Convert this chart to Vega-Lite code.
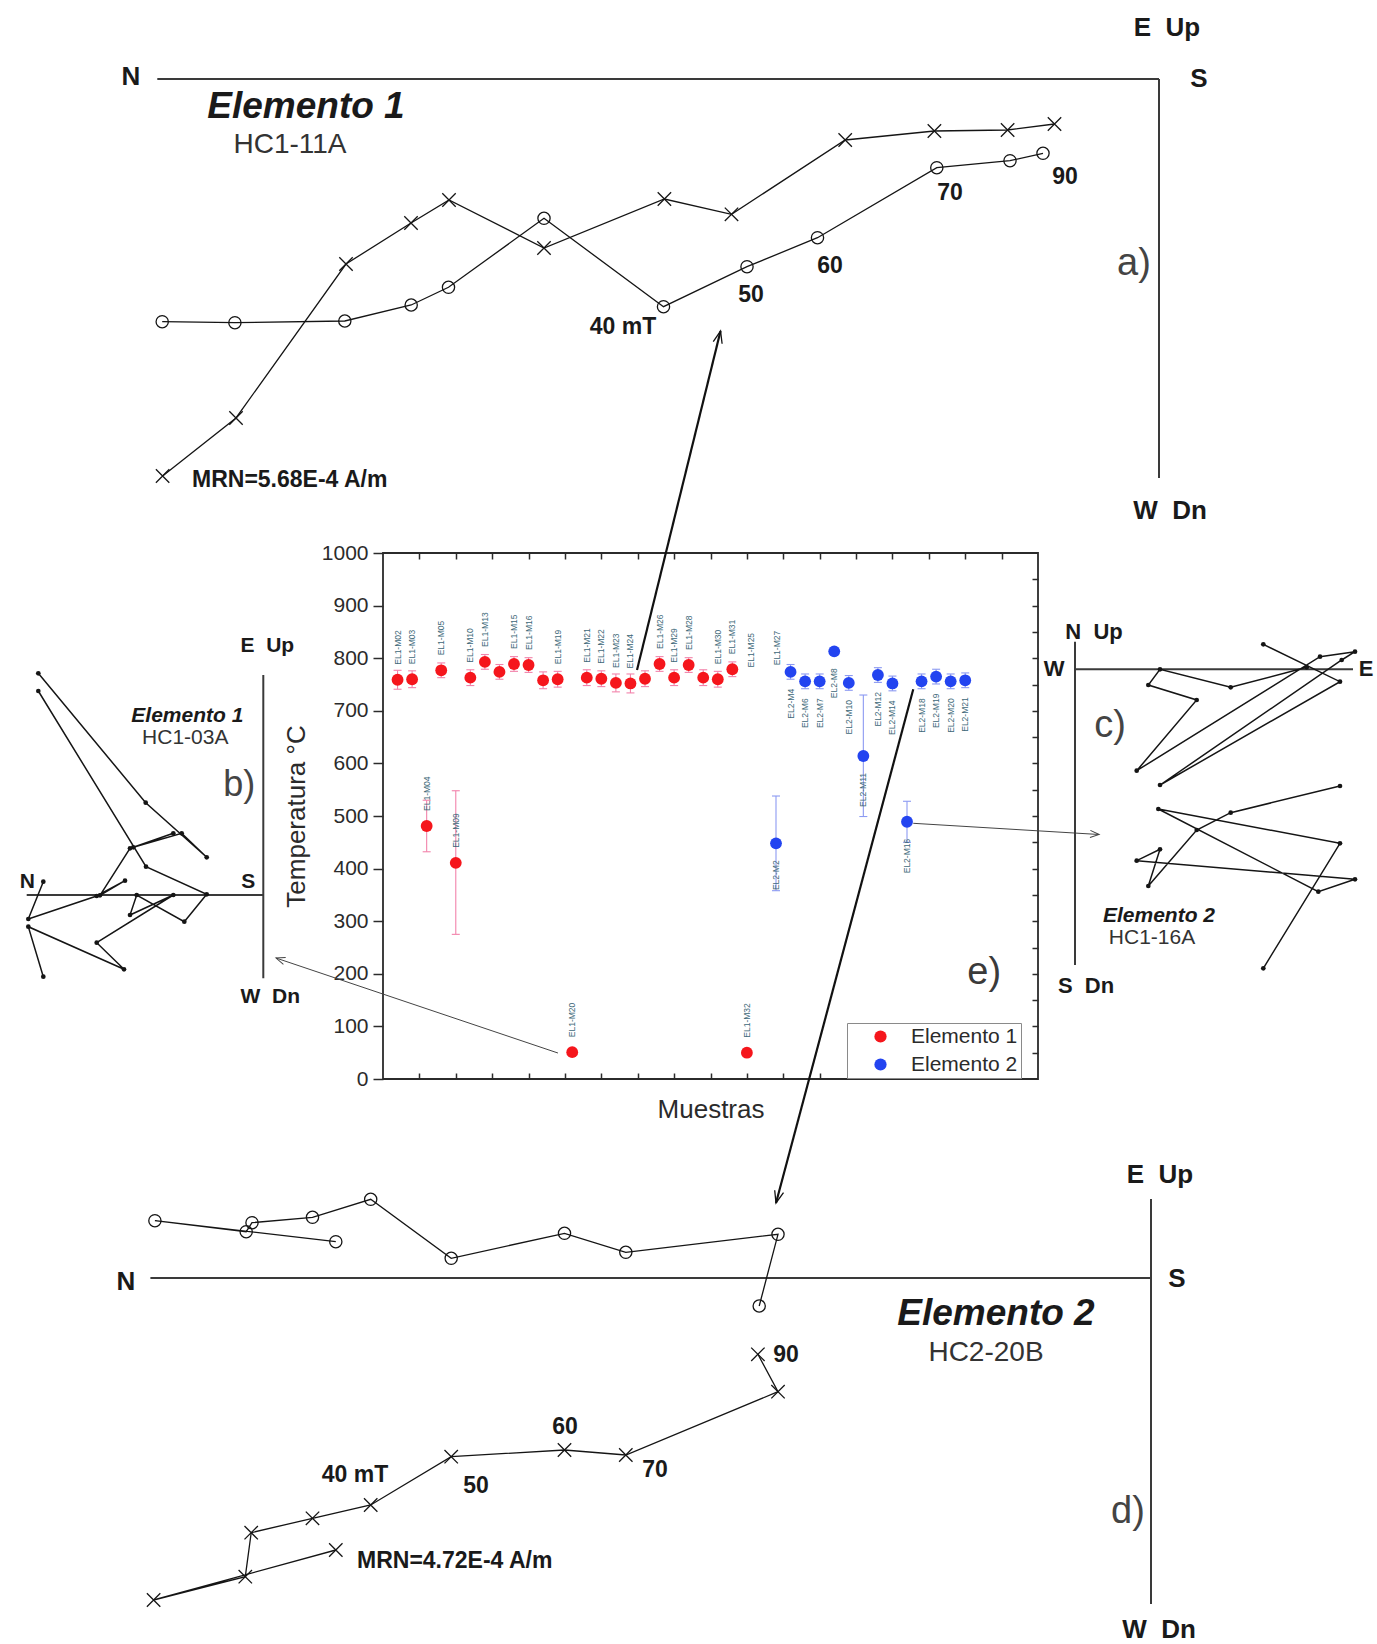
{
  "$schema": "https://vega.github.io/schema/vega-lite/v6.json",
  "width": 655,
  "height": 526,
  "autosize": {"type": "none"},
  "padding": {"left": 383, "top": 553, "right": 339, "bottom": 565},
  "background": "white",
  "config": {"font": "Liberation Sans", "view": {"stroke": "#2b2b2b", "strokeWidth": 1.8}},
  "datasets": {
    "samples": [
      {"idx": 1, "temp": 759, "lo": 741, "hi": 777, "element": "Elemento 1", "label": "EL1-M02"},
      {"idx": 2, "temp": 760, "lo": 744, "hi": 776, "element": "Elemento 1", "label": "EL1-M03"},
      {"idx": 3, "temp": 481, "lo": 432, "hi": 530, "element": "Elemento 1", "label": "EL1-M04"},
      {"idx": 4, "temp": 777, "lo": 763, "hi": 791, "element": "Elemento 1", "label": "EL1-M05"},
      {"idx": 5, "temp": 411, "lo": 275, "hi": 548, "element": "Elemento 1", "label": "EL1-M09"},
      {"idx": 6, "temp": 763, "lo": 748, "hi": 778, "element": "Elemento 1", "label": "EL1-M10"},
      {"idx": 7, "temp": 793, "lo": 779, "hi": 807, "element": "Elemento 1", "label": "EL1-M13"},
      {"idx": 8, "temp": 774, "lo": 760, "hi": 788, "element": "Elemento 1", "label": null},
      {"idx": 9, "temp": 789, "lo": 775, "hi": 803, "element": "Elemento 1", "label": "EL1-M15"},
      {"idx": 10, "temp": 787, "lo": 773, "hi": 801, "element": "Elemento 1", "label": "EL1-M16"},
      {"idx": 11, "temp": 758, "lo": 742, "hi": 774, "element": "Elemento 1", "label": null},
      {"idx": 12, "temp": 760, "lo": 745, "hi": 775, "element": "Elemento 1", "label": "EL1-M19"},
      {"idx": 13, "temp": 51, "lo": null, "hi": null, "element": "Elemento 1", "label": "EL1-M20"},
      {"idx": 14, "temp": 763, "lo": 748, "hi": 778, "element": "Elemento 1", "label": "EL1-M21"},
      {"idx": 15, "temp": 761, "lo": 746, "hi": 776, "element": "Elemento 1", "label": "EL1-M22"},
      {"idx": 16, "temp": 753, "lo": 736, "hi": 770, "element": "Elemento 1", "label": "EL1-M23"},
      {"idx": 17, "temp": 752, "lo": 734, "hi": 770, "element": "Elemento 1", "label": "EL1-M24"},
      {"idx": 18, "temp": 761, "lo": 746, "hi": 776, "element": "Elemento 1", "label": null},
      {"idx": 19, "temp": 789, "lo": 775, "hi": 803, "element": "Elemento 1", "label": "EL1-M26"},
      {"idx": 20, "temp": 763, "lo": 748, "hi": 778, "element": "Elemento 1", "label": "EL1-M29"},
      {"idx": 21, "temp": 787, "lo": 773, "hi": 801, "element": "Elemento 1", "label": "EL1-M28"},
      {"idx": 22, "temp": 763, "lo": 748, "hi": 778, "element": "Elemento 1", "label": null},
      {"idx": 23, "temp": 760, "lo": 745, "hi": 775, "element": "Elemento 1", "label": "EL1-M30"},
      {"idx": 24, "temp": 779, "lo": 765, "hi": 793, "element": "Elemento 1", "label": "EL1-M31"},
      {"idx": 25, "temp": 50, "lo": null, "hi": null, "element": "Elemento 1", "label": "EL1-M32"},
      {"idx": 27, "temp": 448, "lo": 358, "hi": 538, "element": "Elemento 2", "label": "EL2-M2"},
      {"idx": 28, "temp": 774, "lo": 760, "hi": 788, "element": "Elemento 2", "label": "EL2-M4"},
      {"idx": 29, "temp": 756, "lo": 742, "hi": 770, "element": "Elemento 2", "label": "EL2-M6"},
      {"idx": 30, "temp": 756, "lo": 742, "hi": 770, "element": "Elemento 2", "label": "EL2-M7"},
      {"idx": 31, "temp": 813, "lo": null, "hi": null, "element": "Elemento 2", "label": "EL2-M8"},
      {"idx": 32, "temp": 753, "lo": 739, "hi": 767, "element": "Elemento 2", "label": "EL2-M10"},
      {"idx": 33, "temp": 614, "lo": 499, "hi": 730, "element": "Elemento 2", "label": "EL2-M11"},
      {"idx": 34, "temp": 768, "lo": 754, "hi": 782, "element": "Elemento 2", "label": "EL2-M12"},
      {"idx": 35, "temp": 752, "lo": 738, "hi": 766, "element": "Elemento 2", "label": "EL2-M14"},
      {"idx": 36, "temp": 489, "lo": 450, "hi": 528, "element": "Elemento 2", "label": "EL2-M16"},
      {"idx": 37, "temp": 756, "lo": 742, "hi": 770, "element": "Elemento 2", "label": "EL2-M18"},
      {"idx": 38, "temp": 765, "lo": 751, "hi": 779, "element": "Elemento 2", "label": "EL2-M19"},
      {"idx": 39, "temp": 756, "lo": 742, "hi": 770, "element": "Elemento 2", "label": "EL2-M20"},
      {"idx": 40, "temp": 758, "lo": 744, "hi": 772, "element": "Elemento 2", "label": "EL2-M21"}
    ],
    "orphans": [
      {"idx": 25.25, "temp": 754, "element": "Elemento 1", "label": "EL1-M25"},
      {"idx": 27.05, "temp": 758, "element": "Elemento 1", "label": "EL1-M27"}
    ],
    "arrows": [
      {"id": "a", "kind": "main", "idx": 17.45, "temp": 777.6, "idx2": 23.19, "temp2": 1422},
      {"id": "d", "kind": "main", "idx": 36.43, "temp": 740.9, "idx2": 27.0, "temp2": -235.7},
      {"id": "b", "kind": "aux", "idx": 12.02, "temp": 49.4, "idx2": -7.35, "temp2": 230},
      {"id": "c", "kind": "aux", "idx": 36.43, "temp": 486.1, "idx2": 49.2, "temp2": 464.8}
    ],
    "zij": [
      {"panel": "a", "proj": "H", "step": 0, "x": -996.4, "y": -397},
      {"panel": "a", "proj": "H", "step": 1, "x": -923, "y": -339},
      {"panel": "a", "proj": "H", "step": 2, "x": -813, "y": -185},
      {"panel": "a", "proj": "H", "step": 3, "x": -748, "y": -144},
      {"panel": "a", "proj": "H", "step": 4, "x": -710, "y": -121},
      {"panel": "a", "proj": "H", "step": 5, "x": -615, "y": -169},
      {"panel": "a", "proj": "H", "step": 6, "x": -494.6, "y": -120},
      {"panel": "a", "proj": "H", "step": 7, "x": -427.5, "y": -135.3},
      {"panel": "a", "proj": "H", "step": 8, "x": -313.8, "y": -61},
      {"panel": "a", "proj": "H", "step": 9, "x": -224.6, "y": -52},
      {"panel": "a", "proj": "H", "step": 10, "x": -151.4, "y": -51},
      {"panel": "a", "proj": "H", "step": 11, "x": -104.5, "y": -45},
      {"panel": "a", "proj": "V", "step": 0, "x": -996.8, "y": -242.7},
      {"panel": "a", "proj": "V", "step": 1, "x": -924.1, "y": -243.7},
      {"panel": "a", "proj": "V", "step": 2, "x": -814.2, "y": -242},
      {"panel": "a", "proj": "V", "step": 3, "x": -747.8, "y": -226},
      {"panel": "a", "proj": "V", "step": 4, "x": -710.5, "y": -208.3},
      {"panel": "a", "proj": "V", "step": 5, "x": -615, "y": -139.3},
      {"panel": "a", "proj": "V", "step": 6, "x": -495.5, "y": -227.7},
      {"panel": "a", "proj": "V", "step": 7, "x": -412, "y": -187.7},
      {"panel": "a", "proj": "V", "step": 8, "x": -341.5, "y": -158.7},
      {"panel": "a", "proj": "V", "step": 9, "x": -222.2, "y": -88.7},
      {"panel": "a", "proj": "V", "step": 10, "x": -149, "y": -81.7},
      {"panel": "a", "proj": "V", "step": 11, "x": -116, "y": -74.3},
      {"panel": "b", "proj": "H", "step": 0, "x": -220, "y": -81.7},
      {"panel": "b", "proj": "H", "step": 1, "x": -235, "y": -31.7},
      {"panel": "b", "proj": "H", "step": 2, "x": -139.3, "y": -74.3},
      {"panel": "b", "proj": "H", "step": 3, "x": -166.6, "y": -47.7},
      {"panel": "b", "proj": "H", "step": 4, "x": -90, "y": 0},
      {"panel": "b", "proj": "H", "step": 5, "x": -133.3, "y": -20},
      {"panel": "b", "proj": "H", "step": 6, "x": -126.6, "y": 0},
      {"panel": "b", "proj": "H", "step": 7, "x": -79, "y": -26.7},
      {"panel": "b", "proj": "H", "step": 8, "x": -56.6, "y": 0.7},
      {"panel": "b", "proj": "H", "step": 9, "x": -117.3, "y": 28.3},
      {"panel": "b", "proj": "H", "step": 10, "x": -225, "y": 204},
      {"panel": "b", "proj": "V", "step": 0, "x": -220, "y": 13.3},
      {"panel": "b", "proj": "V", "step": 1, "x": -235, "y": -24},
      {"panel": "b", "proj": "V", "step": 2, "x": -166.6, "y": -1},
      {"panel": "b", "proj": "V", "step": 3, "x": -138.3, "y": 14.3},
      {"panel": "b", "proj": "V", "step": 4, "x": -163.3, "y": -0.3},
      {"panel": "b", "proj": "V", "step": 5, "x": -133.3, "y": 46.7},
      {"panel": "b", "proj": "V", "step": 6, "x": -90, "y": 61.7},
      {"panel": "b", "proj": "V", "step": 7, "x": -130, "y": 47.7},
      {"panel": "b", "proj": "V", "step": 8, "x": -81.6, "y": 61.7},
      {"panel": "b", "proj": "V", "step": 9, "x": -56.6, "y": 37.7},
      {"panel": "b", "proj": "V", "step": 10, "x": -117.6, "y": 92.3},
      {"panel": "b", "proj": "V", "step": 11, "x": -225, "y": 221.7},
      {"panel": "c", "proj": "H", "step": 0, "x": 231.7, "y": 2},
      {"panel": "c", "proj": "H", "step": 1, "x": 155.7, "y": -18},
      {"panel": "c", "proj": "H", "step": 2, "x": 85, "y": 0},
      {"panel": "c", "proj": "H", "step": 3, "x": 73.3, "y": -15.7},
      {"panel": "c", "proj": "H", "step": 4, "x": 121.7, "y": -30.7},
      {"panel": "c", "proj": "H", "step": 5, "x": 61.7, "y": -101.4},
      {"panel": "c", "proj": "H", "step": 6, "x": 245, "y": 12.6},
      {"panel": "c", "proj": "H", "step": 7, "x": 280, "y": 17.6},
      {"panel": "c", "proj": "H", "step": 8, "x": 266.7, "y": 9.3},
      {"panel": "c", "proj": "H", "step": 9, "x": 85, "y": -115.7},
      {"panel": "c", "proj": "H", "step": 10, "x": 265, "y": -12.4},
      {"panel": "c", "proj": "H", "step": 11, "x": 188.3, "y": 25},
      {"panel": "c", "proj": "V", "step": 0, "x": 265, "y": -116.7},
      {"panel": "c", "proj": "V", "step": 1, "x": 155.7, "y": -143.4},
      {"panel": "c", "proj": "V", "step": 2, "x": 121.7, "y": -160.7},
      {"panel": "c", "proj": "V", "step": 3, "x": 73.3, "y": -216.7},
      {"panel": "c", "proj": "V", "step": 4, "x": 85, "y": -180},
      {"panel": "c", "proj": "V", "step": 5, "x": 61.7, "y": -191.4},
      {"panel": "c", "proj": "V", "step": 6, "x": 280, "y": -210},
      {"panel": "c", "proj": "V", "step": 7, "x": 243.3, "y": -222.4},
      {"panel": "c", "proj": "V", "step": 8, "x": 83.3, "y": -139.7},
      {"panel": "c", "proj": "V", "step": 9, "x": 265, "y": -174},
      {"panel": "c", "proj": "V", "step": 10, "x": 188.3, "y": -299},
      {"panel": "d", "proj": "V", "step": 0, "x": -815.2, "y": 36.3},
      {"panel": "d", "proj": "V", "step": 1, "x": -996.1, "y": 57.3},
      {"panel": "d", "proj": "V", "step": 2, "x": -904.8, "y": 46.3},
      {"panel": "d", "proj": "V", "step": 3, "x": -899, "y": 55.3},
      {"panel": "d", "proj": "V", "step": 4, "x": -838.5, "y": 60.7},
      {"panel": "d", "proj": "V", "step": 5, "x": -780.3, "y": 78.7},
      {"panel": "d", "proj": "V", "step": 6, "x": -699.8, "y": 19.7},
      {"panel": "d", "proj": "V", "step": 7, "x": -586.5, "y": 44.7},
      {"panel": "d", "proj": "V", "step": 8, "x": -525.2, "y": 25.7},
      {"panel": "d", "proj": "V", "step": 9, "x": -373, "y": 43.7},
      {"panel": "d", "proj": "V", "step": 10, "x": -391.8, "y": -28},
      {"panel": "d", "proj": "H", "step": 0, "x": -815.2, "y": -272},
      {"panel": "d", "proj": "H", "step": 1, "x": -997.4, "y": -322},
      {"panel": "d", "proj": "H", "step": 2, "x": -905.7, "y": -298.7},
      {"panel": "d", "proj": "H", "step": 3, "x": -899.8, "y": -254.7},
      {"panel": "d", "proj": "H", "step": 4, "x": -838.5, "y": -240.3},
      {"panel": "d", "proj": "H", "step": 5, "x": -780.3, "y": -227},
      {"panel": "d", "proj": "H", "step": 6, "x": -699.8, "y": -178.7},
      {"panel": "d", "proj": "H", "step": 7, "x": -586.5, "y": -172},
      {"panel": "d", "proj": "H", "step": 8, "x": -525.2, "y": -177},
      {"panel": "d", "proj": "H", "step": 9, "x": -373, "y": -113.7},
      {"panel": "d", "proj": "H", "step": 10, "x": -393.1, "y": -76.3}
    ],
    "zaxes": [
      {"panel": "a", "x": -1001.7, "y": 0, "x2": 0, "y2": 0},
      {"panel": "a", "x": 0, "y": 0, "x2": 0, "y2": -399},
      {"panel": "b", "x": 0, "y": 220, "x2": 0, "y2": -83.3},
      {"panel": "b", "x": -236.6, "y": 0, "x2": 0, "y2": 0},
      {"panel": "c", "x": 0, "y": 27.6, "x2": 0, "y2": -295.7},
      {"panel": "c", "x": 0, "y": 0, "x2": 278, "y2": 0},
      {"panel": "d", "x": -1000.6, "y": 0, "x2": 0, "y2": 0},
      {"panel": "d", "x": 0, "y": 79, "x2": 0, "y2": -326}
    ],
    "notes": [
      {"panel": "a", "role": "dir", "x": -1028, "y": 2, "text": "N"},
      {"panel": "a", "role": "dir", "x": 40, "y": 0, "text": "S"},
      {"panel": "a", "role": "dir", "x": 8, "y": 51, "text": "E\u00a0\u00a0Up"},
      {"panel": "a", "role": "dir", "x": 11, "y": -432, "text": "W\u00a0\u00a0Dn"},
      {"panel": "a", "role": "panel", "x": -25, "y": -185, "text": "a)"},
      {"panel": "a", "role": "element", "x": -853, "y": -28, "text": "Elemento 1"},
      {"panel": "a", "role": "sample", "x": -869, "y": -66, "text": "HC1-11A"},
      {"panel": "a", "role": "nrm", "x": -967, "y": -401, "text": "MRN=5.68E-4 A/m"},
      {"panel": "a", "role": "step", "x": -536, "y": -248, "text": "40 mT"},
      {"panel": "a", "role": "step", "x": -408, "y": -216, "text": "50"},
      {"panel": "a", "role": "step", "x": -329, "y": -187, "text": "60"},
      {"panel": "a", "role": "step", "x": -209, "y": -114, "text": "70"},
      {"panel": "a", "role": "step", "x": -94, "y": -98, "text": "90"},
      {"panel": "b", "role": "dir", "x": 4, "y": 249, "text": "E\u00a0\u00a0Up"},
      {"panel": "b", "role": "dir", "x": -236, "y": 13, "text": "N"},
      {"panel": "b", "role": "dir", "x": -15, "y": 13, "text": "S"},
      {"panel": "b", "role": "dir", "x": 7, "y": -102, "text": "W\u00a0\u00a0Dn"},
      {"panel": "b", "role": "panel", "x": -24, "y": 110, "text": "b)"},
      {"panel": "b", "role": "element", "x": -76, "y": 179, "text": "Elemento 1"},
      {"panel": "b", "role": "sample", "x": -78, "y": 157, "text": "HC1-03A"},
      {"panel": "c", "role": "dir", "x": 19, "y": 37, "text": "N\u00a0\u00a0Up"},
      {"panel": "c", "role": "dir", "x": -21, "y": 0, "text": "W"},
      {"panel": "c", "role": "dir", "x": 291, "y": 0, "text": "E"},
      {"panel": "c", "role": "dir", "x": 11, "y": -317, "text": "S\u00a0\u00a0Dn"},
      {"panel": "c", "role": "panel", "x": 35, "y": -57, "text": "c)"},
      {"panel": "c", "role": "element", "x": 84, "y": -247, "text": "Elemento 2"},
      {"panel": "c", "role": "sample", "x": 77, "y": -269, "text": "HC1-16A"},
      {"panel": "d", "role": "dir", "x": -1025, "y": -4, "text": "N"},
      {"panel": "d", "role": "dir", "x": 26, "y": -1, "text": "S"},
      {"panel": "d", "role": "dir", "x": 9, "y": 103, "text": "E\u00a0\u00a0Up"},
      {"panel": "d", "role": "dir", "x": 8, "y": -352, "text": "W\u00a0\u00a0Dn"},
      {"panel": "d", "role": "panel", "x": -23, "y": -234, "text": "d)"},
      {"panel": "d", "role": "element", "x": -155, "y": -36, "text": "Elemento 2"},
      {"panel": "d", "role": "sample", "x": -165, "y": -75, "text": "HC2-20B"},
      {"panel": "d", "role": "nrm", "x": -794, "y": -283, "text": "MRN=4.72E-4 A/m"},
      {"panel": "d", "role": "step", "x": -796, "y": -197, "text": "40 mT"},
      {"panel": "d", "role": "step", "x": -675, "y": -208, "text": "50"},
      {"panel": "d", "role": "step", "x": -586, "y": -149, "text": "60"},
      {"panel": "d", "role": "step", "x": -496, "y": -192, "text": "70"},
      {"panel": "d", "role": "step", "x": -365, "y": -77, "text": "90"}
    ]
  },
  "resolve": {"scale": {"x": "independent", "y": "independent"}},
  "layer": [
    {
      "resolve": {"axis": {"x": "independent", "y": "independent"}},
      "encoding": {
        "x": {"field": "idx", "type": "quantitative", "scale": {"domain": [0, 45], "nice": false, "zero": false}, "axis": null},
        "y": {"field": "temp", "type": "quantitative", "scale": {"domain": [0, 1000], "nice": false, "zero": false}, "axis": null}
      },
      "layer": [
        {
          "data": {"name": "samples"},
          "transform": [{"filter": "datum.lo != null && datum.element === 'Elemento 1'"}],
          "mark": {"type": "rule", "strokeWidth": 1.1, "stroke": "#f283ab"},
          "encoding": {
            "x": {"field": "idx", "type": "quantitative", "scale": {"domain": [0, 45], "nice": false, "zero": false},
              "axis": {"orient": "top", "values": [2.5, 5, 7.5, 10, 12.5, 15, 17.5, 20, 22.5, 25, 27.5, 30, 32.5, 35, 37.5, 40, 42.5], "tickSize": -6, "tickWidth": 1.5, "tickColor": "#2b2b2b", "labels": false, "domain": false, "grid": false, "title": null}},
            "y": {"field": "lo", "type": "quantitative", "scale": {"domain": [0, 1000], "nice": false, "zero": false},
              "axis": {"orient": "right", "values": [50, 100, 150, 200, 250, 300, 350, 400, 450, 500, 550, 600, 650, 700, 750, 800, 850, 900, 950], "tickSize": -6, "tickWidth": 1.5, "tickColor": "#2b2b2b", "labels": false, "domain": false, "grid": false, "title": null}},
            "y2": {"field": "hi"}
          }
        },
        {
          "data": {"name": "samples"},
          "transform": [{"filter": "datum.lo != null && datum.element === 'Elemento 2'"}],
          "mark": {"type": "rule", "strokeWidth": 1.1, "stroke": "#8c9af2"},
          "encoding": {
            "y": {"field": "lo", "type": "quantitative", "scale": {"domain": [0, 1000], "nice": false, "zero": false}, "axis": null},
            "y2": {"field": "hi"}
          }
        },
        {
          "data": {"name": "samples"},
          "transform": [{"filter": "datum.lo != null && datum.element === 'Elemento 1'"}],
          "mark": {"type": "point", "shape": "stroke", "size": 64, "filled": false, "strokeWidth": 1.1, "opacity": 1, "stroke": "#f283ab"},
          "encoding": {"y": {"field": "lo", "type": "quantitative", "scale": {"domain": [0, 1000], "nice": false, "zero": false}, "axis": null}}
        },
        {
          "data": {"name": "samples"},
          "transform": [{"filter": "datum.hi != null && datum.element === 'Elemento 1'"}],
          "mark": {"type": "point", "shape": "stroke", "size": 64, "filled": false, "strokeWidth": 1.1, "opacity": 1, "stroke": "#f283ab"},
          "encoding": {"y": {"field": "hi", "type": "quantitative", "scale": {"domain": [0, 1000], "nice": false, "zero": false}, "axis": null}}
        },
        {
          "data": {"name": "samples"},
          "transform": [{"filter": "datum.lo != null && datum.element === 'Elemento 2'"}],
          "mark": {"type": "point", "shape": "stroke", "size": 64, "filled": false, "strokeWidth": 1.1, "opacity": 1, "stroke": "#8c9af2"},
          "encoding": {"y": {"field": "lo", "type": "quantitative", "scale": {"domain": [0, 1000], "nice": false, "zero": false}, "axis": null}}
        },
        {
          "data": {"name": "samples"},
          "transform": [{"filter": "datum.hi != null && datum.element === 'Elemento 2'"}],
          "mark": {"type": "point", "shape": "stroke", "size": 64, "filled": false, "strokeWidth": 1.1, "opacity": 1, "stroke": "#8c9af2"},
          "encoding": {"y": {"field": "hi", "type": "quantitative", "scale": {"domain": [0, 1000], "nice": false, "zero": false}, "axis": null}}
        },
        {
          "data": {"name": "samples"},
          "mark": {"type": "circle", "size": 140, "opacity": 1},
          "encoding": {
            "x": {"field": "idx", "type": "quantitative", "scale": {"domain": [0, 45], "nice": false, "zero": false},
              "axis": {"orient": "bottom", "values": [2.5, 5, 7.5, 10, 12.5, 15, 17.5, 20, 22.5, 25, 27.5, 30, 32.5, 35, 37.5, 40, 42.5], "tickSize": -6, "tickWidth": 1.5, "tickColor": "#2b2b2b", "labels": false, "domain": false, "grid": false, "title": "Muestras", "titleFontSize": 26, "titleFontWeight": "normal", "titleColor": "#2b2b2b", "titlePadding": 17, "minExtent": 0, "maxExtent": 0}},
            "y": {"field": "temp", "type": "quantitative", "scale": {"domain": [0, 1000], "nice": false, "zero": false},
              "axis": {"orient": "left", "values": [0, 100, 200, 300, 400, 500, 600, 700, 800, 900, 1000], "format": "d", "tickSize": 10, "tickWidth": 1.5, "tickColor": "#2b2b2b", "domain": false, "grid": false, "labelFontSize": 21, "labelColor": "#2b2b2b", "labelPadding": 5, "title": "Temperatura °C", "titleFontSize": 26, "titleFontWeight": "normal", "titleColor": "#2b2b2b", "titlePadding": 12}},
            "color": {"field": "element", "type": "nominal", "scale": {"domain": ["Elemento 1", "Elemento 2"], "range": ["#f5161c", "#2344f0"]},
              "legend": {"orient": "none", "legendX": 464, "legendY": 470, "title": null, "strokeColor": "#8a8a8a", "fillColor": "white", "padding": 3, "labelFontSize": 21, "labelColor": "#2b2b2b", "symbolSize": 150, "symbolType": "circle", "symbolOffset": 20, "labelOffset": 20, "rowPadding": 6, "symbolStrokeWidth": 0}}
          }
        },
        {
          "data": {"name": "samples"},
          "transform": [{"filter": "datum.label != null && datum.element === 'Elemento 1'"}],
          "mark": {"type": "text", "angle": 270, "align": "left", "baseline": "middle", "dx": 15, "fontSize": 8.5, "color": "#3d6878"},
          "encoding": {"text": {"field": "label"}}
        },
        {
          "data": {"name": "orphans"},
          "mark": {"type": "text", "angle": 270, "align": "left", "baseline": "middle", "dx": 15, "fontSize": 8.5, "color": "#3d6878"},
          "encoding": {"text": {"field": "label"}}
        },
        {
          "data": {"name": "samples"},
          "transform": [{"filter": "datum.label != null && datum.element === 'Elemento 2'"}],
          "mark": {"type": "text", "angle": 270, "align": "right", "baseline": "middle", "dx": -17, "fontSize": 8.5, "color": "#3d6878"},
          "encoding": {"text": {"field": "label"}}
        },
        {
          "data": {"values": [{"idx": 41.3, "temp": 202, "text": "e)"}]},
          "mark": {"type": "text", "fontSize": 38, "color": "#3a3a3a", "baseline": "middle", "align": "center"},
          "encoding": {"text": {"field": "text"}}
        },
        {
          "data": {"name": "arrows"},
          "transform": [{"filter": "datum.kind === 'main'"}],
          "mark": {"type": "rule", "stroke": "#111111", "strokeWidth": 2.2},
          "encoding": {"x2": {"field": "idx2"}, "y2": {"field": "temp2"}}
        },
        {
          "data": {"name": "arrows"},
          "transform": [{"filter": "datum.kind === 'aux'"}],
          "mark": {"type": "rule", "stroke": "#444444", "strokeWidth": 1},
          "encoding": {"x2": {"field": "idx2"}, "y2": {"field": "temp2"}}
        },
        {
          "data": {"name": "arrows"},
          "transform": [{"filter": "datum.id === 'a'"}],
          "mark": {"type": "point", "shape": "M -0.38 1 L 0 0 L 0.38 1", "size": 576, "filled": false, "stroke": "#111111", "strokeWidth": 1.3, "opacity": 1, "angle": 13.8},
          "encoding": {
            "x": {"field": "idx2", "type": "quantitative", "scale": {"domain": [0, 45], "nice": false, "zero": false}, "axis": null},
            "y": {"field": "temp2", "type": "quantitative", "scale": {"domain": [0, 1000], "nice": false, "zero": false}, "axis": null}
          }
        },
        {
          "data": {"name": "arrows"},
          "transform": [{"filter": "datum.id === 'd'"}],
          "mark": {"type": "point", "shape": "M -0.38 1 L 0 0 L 0.38 1", "size": 576, "filled": false, "stroke": "#111111", "strokeWidth": 1.3, "opacity": 1, "angle": 195},
          "encoding": {
            "x": {"field": "idx2", "type": "quantitative", "scale": {"domain": [0, 45], "nice": false, "zero": false}, "axis": null},
            "y": {"field": "temp2", "type": "quantitative", "scale": {"domain": [0, 1000], "nice": false, "zero": false}, "axis": null}
          }
        },
        {
          "data": {"name": "arrows"},
          "transform": [{"filter": "datum.id === 'b'"}],
          "mark": {"type": "point", "shape": "M -0.4 1 L 0 0 L 0.4 1", "size": 324, "filled": false, "stroke": "#444444", "strokeWidth": 1, "opacity": 1, "angle": 288.6},
          "encoding": {
            "x": {"field": "idx2", "type": "quantitative", "scale": {"domain": [0, 45], "nice": false, "zero": false}, "axis": null},
            "y": {"field": "temp2", "type": "quantitative", "scale": {"domain": [0, 1000], "nice": false, "zero": false}, "axis": null}
          }
        },
        {
          "data": {"name": "arrows"},
          "transform": [{"filter": "datum.id === 'c'"}],
          "mark": {"type": "point", "shape": "M -0.4 1 L 0 0 L 0.4 1", "size": 324, "filled": false, "stroke": "#444444", "strokeWidth": 1, "opacity": 1, "angle": 93.5},
          "encoding": {
            "x": {"field": "idx2", "type": "quantitative", "scale": {"domain": [0, 45], "nice": false, "zero": false}, "axis": null},
            "y": {"field": "temp2", "type": "quantitative", "scale": {"domain": [0, 1000], "nice": false, "zero": false}, "axis": null}
          }
        }
      ]
    },
    {
      "encoding": {
        "x": {"field": "x", "type": "quantitative", "scale": {"domain": [-776, -121], "nice": false, "zero": false}, "axis": null},
        "y": {"field": "y", "type": "quantitative", "scale": {"domain": [-1000, -474], "nice": false, "zero": false}, "axis": null}
      },
      "layer": [
        {"data": {"name": "zaxes"}, "transform": [{"filter": "datum.panel === 'a'"}], "mark": {"type": "rule", "stroke": "#3a3a3a", "strokeWidth": 2}, "encoding": {"x2": {"field": "x2"}, "y2": {"field": "y2"}}},
        {"data": {"name": "zij"}, "transform": [{"filter": "datum.panel === 'a'"}], "mark": {"type": "line", "stroke": "#151515", "strokeWidth": 1.3}, "encoding": {"detail": {"field": "proj", "type": "nominal"}, "order": {"field": "step", "type": "quantitative"}}},
        {"data": {"name": "zij"}, "transform": [{"filter": "datum.panel === 'a' && datum.proj === 'H'"}], "mark": {"type": "point", "shape": "M -1 -1 L 1 1 M -1 1 L 1 -1", "size": 180, "filled": false, "stroke": "#151515", "strokeWidth": 1.3, "opacity": 1}},
        {"data": {"name": "zij"}, "transform": [{"filter": "datum.panel === 'a' && datum.proj === 'V'"}], "mark": {"type": "point", "shape": "circle", "size": 150, "filled": false, "stroke": "#151515", "strokeWidth": 1.3, "opacity": 1}},
        {"data": {"name": "notes"}, "transform": [{"filter": "datum.panel === 'a' && datum.role === 'dir'"}], "mark": {"type": "text", "fontSize": 26, "fontWeight": "bold", "color": "#1a1a1a", "baseline": "middle"}, "encoding": {"text": {"field": "text"}}},
        {"data": {"name": "notes"}, "transform": [{"filter": "datum.panel === 'a' && datum.role === 'step'"}], "mark": {"type": "text", "fontSize": 23, "fontWeight": "bold", "color": "#1a1a1a", "baseline": "middle"}, "encoding": {"text": {"field": "text"}}},
        {"data": {"name": "notes"}, "transform": [{"filter": "datum.panel === 'a' && datum.role === 'nrm'"}], "mark": {"type": "text", "fontSize": 23, "fontWeight": "bold", "color": "#1a1a1a", "baseline": "middle", "align": "left"}, "encoding": {"text": {"field": "text"}}},
        {"data": {"name": "notes"}, "transform": [{"filter": "datum.panel === 'a' && datum.role === 'element'"}], "mark": {"type": "text", "fontSize": 37, "fontWeight": "bold", "fontStyle": "italic", "color": "#1a1a1a", "baseline": "middle"}, "encoding": {"text": {"field": "text"}}},
        {"data": {"name": "notes"}, "transform": [{"filter": "datum.panel === 'a' && datum.role === 'sample'"}], "mark": {"type": "text", "fontSize": 28, "color": "#333333", "baseline": "middle"}, "encoding": {"text": {"field": "text"}}},
        {"data": {"name": "notes"}, "transform": [{"filter": "datum.panel === 'a' && datum.role === 'panel'"}], "mark": {"type": "text", "fontSize": 38, "color": "#444444", "baseline": "middle"}, "encoding": {"text": {"field": "text"}}}
      ]
    },
    {
      "encoding": {
        "x": {"field": "x", "type": "quantitative", "scale": {"domain": [119.7, 774.7], "nice": false, "zero": false}, "axis": null},
        "y": {"field": "y", "type": "quantitative", "scale": {"domain": [-184, 342], "nice": false, "zero": false}, "axis": null}
      },
      "layer": [
        {"data": {"name": "zaxes"}, "transform": [{"filter": "datum.panel === 'b'"}], "mark": {"type": "rule", "stroke": "#3a3a3a", "strokeWidth": 2}, "encoding": {"x2": {"field": "x2"}, "y2": {"field": "y2"}}},
        {"data": {"name": "zij"}, "transform": [{"filter": "datum.panel === 'b'"}], "mark": {"type": "line", "stroke": "#151515", "strokeWidth": 1.5}, "encoding": {"detail": {"field": "proj", "type": "nominal"}, "order": {"field": "step", "type": "quantitative"}}},
        {"data": {"name": "zij"}, "transform": [{"filter": "datum.panel === 'b'"}], "mark": {"type": "circle", "size": 22, "color": "#151515", "opacity": 1}},
        {"data": {"name": "notes"}, "transform": [{"filter": "datum.panel === 'b' && datum.role === 'dir'"}], "mark": {"type": "text", "fontSize": 21, "fontWeight": "bold", "color": "#1a1a1a", "baseline": "middle"}, "encoding": {"text": {"field": "text"}}},
        {"data": {"name": "notes"}, "transform": [{"filter": "datum.panel === 'b' && datum.role === 'element'"}], "mark": {"type": "text", "fontSize": 21, "fontWeight": "bold", "fontStyle": "italic", "color": "#1a1a1a", "baseline": "middle"}, "encoding": {"text": {"field": "text"}}},
        {"data": {"name": "notes"}, "transform": [{"filter": "datum.panel === 'b' && datum.role === 'sample'"}], "mark": {"type": "text", "fontSize": 21, "color": "#333333", "baseline": "middle"}, "encoding": {"text": {"field": "text"}}},
        {"data": {"name": "notes"}, "transform": [{"filter": "datum.panel === 'b' && datum.role === 'panel'"}], "mark": {"type": "text", "fontSize": 36, "color": "#444444", "baseline": "middle"}, "encoding": {"text": {"field": "text"}}}
      ]
    },
    {
      "encoding": {
        "x": {"field": "x", "type": "quantitative", "scale": {"domain": [-692, -37], "nice": false, "zero": false}, "axis": null},
        "y": {"field": "y", "type": "quantitative", "scale": {"domain": [-409.7, 116.3], "nice": false, "zero": false}, "axis": null}
      },
      "layer": [
        {"data": {"name": "zaxes"}, "transform": [{"filter": "datum.panel === 'c'"}], "mark": {"type": "rule", "stroke": "#3a3a3a", "strokeWidth": 2}, "encoding": {"x2": {"field": "x2"}, "y2": {"field": "y2"}}},
        {"data": {"name": "zij"}, "transform": [{"filter": "datum.panel === 'c'"}], "mark": {"type": "line", "stroke": "#151515", "strokeWidth": 1.5}, "encoding": {"detail": {"field": "proj", "type": "nominal"}, "order": {"field": "step", "type": "quantitative"}}},
        {"data": {"name": "zij"}, "transform": [{"filter": "datum.panel === 'c'"}], "mark": {"type": "circle", "size": 22, "color": "#151515", "opacity": 1}},
        {"data": {"name": "notes"}, "transform": [{"filter": "datum.panel === 'c' && datum.role === 'dir'"}], "mark": {"type": "text", "fontSize": 22, "fontWeight": "bold", "color": "#1a1a1a", "baseline": "middle"}, "encoding": {"text": {"field": "text"}}},
        {"data": {"name": "notes"}, "transform": [{"filter": "datum.panel === 'c' && datum.role === 'element'"}], "mark": {"type": "text", "fontSize": 21, "fontWeight": "bold", "fontStyle": "italic", "color": "#1a1a1a", "baseline": "middle"}, "encoding": {"text": {"field": "text"}}},
        {"data": {"name": "notes"}, "transform": [{"filter": "datum.panel === 'c' && datum.role === 'sample'"}], "mark": {"type": "text", "fontSize": 21, "color": "#333333", "baseline": "middle"}, "encoding": {"text": {"field": "text"}}},
        {"data": {"name": "notes"}, "transform": [{"filter": "datum.panel === 'c' && datum.role === 'panel'"}], "mark": {"type": "text", "fontSize": 38, "color": "#444444", "baseline": "middle"}, "encoding": {"text": {"field": "text"}}}
      ]
    },
    {
      "encoding": {
        "x": {"field": "x", "type": "quantitative", "scale": {"domain": [-768, -113], "nice": false, "zero": false}, "axis": null},
        "y": {"field": "y", "type": "quantitative", "scale": {"domain": [199, 725], "nice": false, "zero": false}, "axis": null}
      },
      "layer": [
        {"data": {"name": "zaxes"}, "transform": [{"filter": "datum.panel === 'd'"}], "mark": {"type": "rule", "stroke": "#3a3a3a", "strokeWidth": 2}, "encoding": {"x2": {"field": "x2"}, "y2": {"field": "y2"}}},
        {"data": {"name": "zij"}, "transform": [{"filter": "datum.panel === 'd'"}], "mark": {"type": "line", "stroke": "#151515", "strokeWidth": 1.3}, "encoding": {"detail": {"field": "proj", "type": "nominal"}, "order": {"field": "step", "type": "quantitative"}}},
        {"data": {"name": "zij"}, "transform": [{"filter": "datum.panel === 'd' && datum.proj === 'H'"}], "mark": {"type": "point", "shape": "M -1 -1 L 1 1 M -1 1 L 1 -1", "size": 180, "filled": false, "stroke": "#151515", "strokeWidth": 1.3, "opacity": 1}},
        {"data": {"name": "zij"}, "transform": [{"filter": "datum.panel === 'd' && datum.proj === 'V'"}], "mark": {"type": "point", "shape": "circle", "size": 150, "filled": false, "stroke": "#151515", "strokeWidth": 1.3, "opacity": 1}},
        {"data": {"name": "notes"}, "transform": [{"filter": "datum.panel === 'd' && datum.role === 'dir'"}], "mark": {"type": "text", "fontSize": 26, "fontWeight": "bold", "color": "#1a1a1a", "baseline": "middle"}, "encoding": {"text": {"field": "text"}}},
        {"data": {"name": "notes"}, "transform": [{"filter": "datum.panel === 'd' && datum.role === 'step'"}], "mark": {"type": "text", "fontSize": 23, "fontWeight": "bold", "color": "#1a1a1a", "baseline": "middle"}, "encoding": {"text": {"field": "text"}}},
        {"data": {"name": "notes"}, "transform": [{"filter": "datum.panel === 'd' && datum.role === 'nrm'"}], "mark": {"type": "text", "fontSize": 23, "fontWeight": "bold", "color": "#1a1a1a", "baseline": "middle", "align": "left"}, "encoding": {"text": {"field": "text"}}},
        {"data": {"name": "notes"}, "transform": [{"filter": "datum.panel === 'd' && datum.role === 'element'"}], "mark": {"type": "text", "fontSize": 37, "fontWeight": "bold", "fontStyle": "italic", "color": "#1a1a1a", "baseline": "middle"}, "encoding": {"text": {"field": "text"}}},
        {"data": {"name": "notes"}, "transform": [{"filter": "datum.panel === 'd' && datum.role === 'sample'"}], "mark": {"type": "text", "fontSize": 28, "color": "#333333", "baseline": "middle"}, "encoding": {"text": {"field": "text"}}},
        {"data": {"name": "notes"}, "transform": [{"filter": "datum.panel === 'd' && datum.role === 'panel'"}], "mark": {"type": "text", "fontSize": 38, "color": "#444444", "baseline": "middle"}, "encoding": {"text": {"field": "text"}}}
      ]
    }
  ]
}
